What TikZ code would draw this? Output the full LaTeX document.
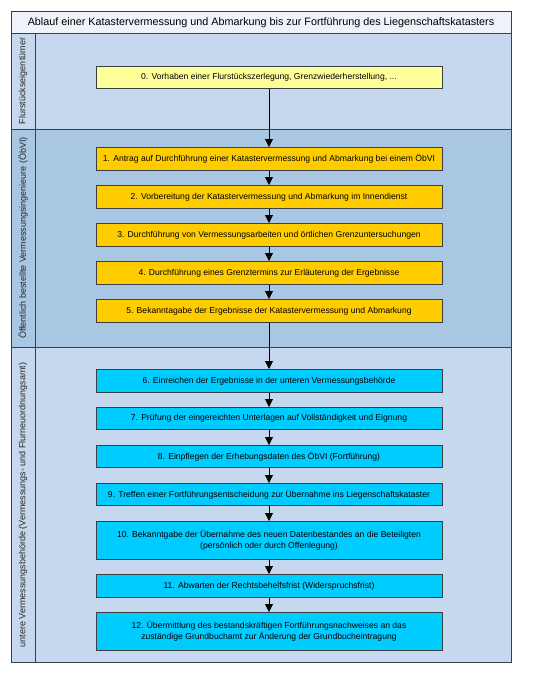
\documentclass[tikz,border=0pt]{standalone}
\usepackage{fontspec}
\setmainfont{Liberation Sans}
\usetikzlibrary{arrows.meta}
\definecolor{titlebg}{HTML}{EEF3FA}
\definecolor{laneA}{HTML}{C5D8EE}
\definecolor{laneB}{HTML}{A9C6E2}
\definecolor{framec}{HTML}{3A3F46}
\definecolor{boxY}{HTML}{FFFF99}
\definecolor{boxO}{HTML}{FFCC00}
\definecolor{boxC}{HTML}{00CCFF}
\tikzset{
  stepbox/.style={draw=framec, line width=0.8pt, minimum width=346pt, align=center, font=\fontsize{8.6}{11}\selectfont, inner sep=0pt, anchor=north},
  lanelabel/.style={rotate=90, font=\fontsize{9}{10}\selectfont, text=black!85},
  flow/.style={-{Stealth[length=8pt,width=8pt,inset=0pt]}, line width=0.8pt, black}
}
\begin{document}
\begin{tikzpicture}[x=1pt,y=-1pt]
\useasboundingbox (0,0) rectangle (538,674);
% lanes
\fill[titlebg] (11,12) rectangle (511,33);
\fill[laneA] (11,33) rectangle (511,129);
\fill[laneB] (11,129) rectangle (511,347);
\fill[laneA] (11,347) rectangle (511,662);
\draw[framec, line width=0.8pt] (11,33) -- (511,33);
\draw[framec, line width=0.8pt] (11,129) -- (511,129);
\draw[framec, line width=0.8pt] (11,347) -- (511,347);
\draw[framec, line width=0.8pt] (35,33) -- (35,662);
\draw[framec, line width=1pt] (11,12) rectangle (511,662);
% title
\node[font=\fontsize{10.8}{12}\selectfont] (title) at (261,23) {Ablauf einer Katastervermessung und Abmarkung bis zur Fortführung des Liegenschaftskatasters};
% lane labels
\node[lanelabel] (l1) at (23,81) {Flurstückseigentümer};
\node[lanelabel] (l2) at (23,238) {Öffentlich bestellte Vermessungsingenieure (ÖbVI)};
\node[lanelabel] (l3) at (23,505) {untere Vermessungsbehörde (Vermessungs- und Flurneuordnungsamt)};
% boxes
\node[stepbox, fill=boxY, minimum height=22pt] (b0) at (269,66) {0. Vorhaben einer Flurstückszerlegung, Grenzwiederherstellung, ...};
\node[stepbox, fill=boxO, minimum height=23pt] (b1) at (269,147) {1. Antrag auf Durchführung einer Katastervermessung und Abmarkung bei einem ÖbVI};
\node[stepbox, fill=boxO, minimum height=23pt] (b2) at (269,185) {2. Vorbereitung der Katastervermessung und Abmarkung im Innendienst};
\node[stepbox, fill=boxO, minimum height=23pt] (b3) at (269,223) {3. Durchführung von Vermessungsarbeiten und örtlichen Grenzuntersuchungen};
\node[stepbox, fill=boxO, minimum height=23pt] (b4) at (269,261) {4. Durchführung eines Grenztermins zur Erläuterung der Ergebnisse};
\node[stepbox, fill=boxO, minimum height=23pt] (b5) at (269,299) {5. Bekanntagabe der Ergebnisse der Katastervermessung und Abmarkung};
\node[stepbox, fill=boxC, minimum height=23pt] (b6) at (269,369) {6. Einreichen der Ergebnisse in der unteren Vermessungsbehörde};
\node[stepbox, fill=boxC, minimum height=22pt] (b7) at (269,407) {7. Prüfung der eingereichten Unterlagen auf Vollständigkeit und Eignung};
\node[stepbox, fill=boxC, minimum height=22pt] (b8) at (269,445) {8. Einpflegen der Erhebungsdaten des ÖbVI (Fortführung)};
\node[stepbox, fill=boxC, minimum height=22pt] (b9) at (269,483) {9. Treffen einer Fortführungsentscheidung zur Übernahme ins Liegenschaftskataster};
\node[stepbox, fill=boxC, minimum height=38pt] (b10) at (269,521) {10. Bekanntgabe der Übernahme des neuen Datenbestandes an die Beteiligten\\(persönlich oder durch Offenlegung)};
\node[stepbox, fill=boxC, minimum height=23pt] (b11) at (269,574) {11. Abwarten der Rechtsbehelfsfrist (Widerspruchsfrist)};
\node[stepbox, fill=boxC, minimum height=38pt] (b12) at (269,612) {12. Übermittlung des bestandskräftigen Fortführungsnachweises an das\\zuständige Grundbuchamt zur Änderung der Grundbucheintragung};
% arrows
\foreach \a/\b in {b0/b1,b1/b2,b2/b3,b3/b4,b4/b5,b5/b6,b6/b7,b7/b8,b8/b9,b9/b10,b10/b11,b11/b12}
  \draw[flow] (\a.south) -- (\b.north);
\end{tikzpicture}
\end{document}
